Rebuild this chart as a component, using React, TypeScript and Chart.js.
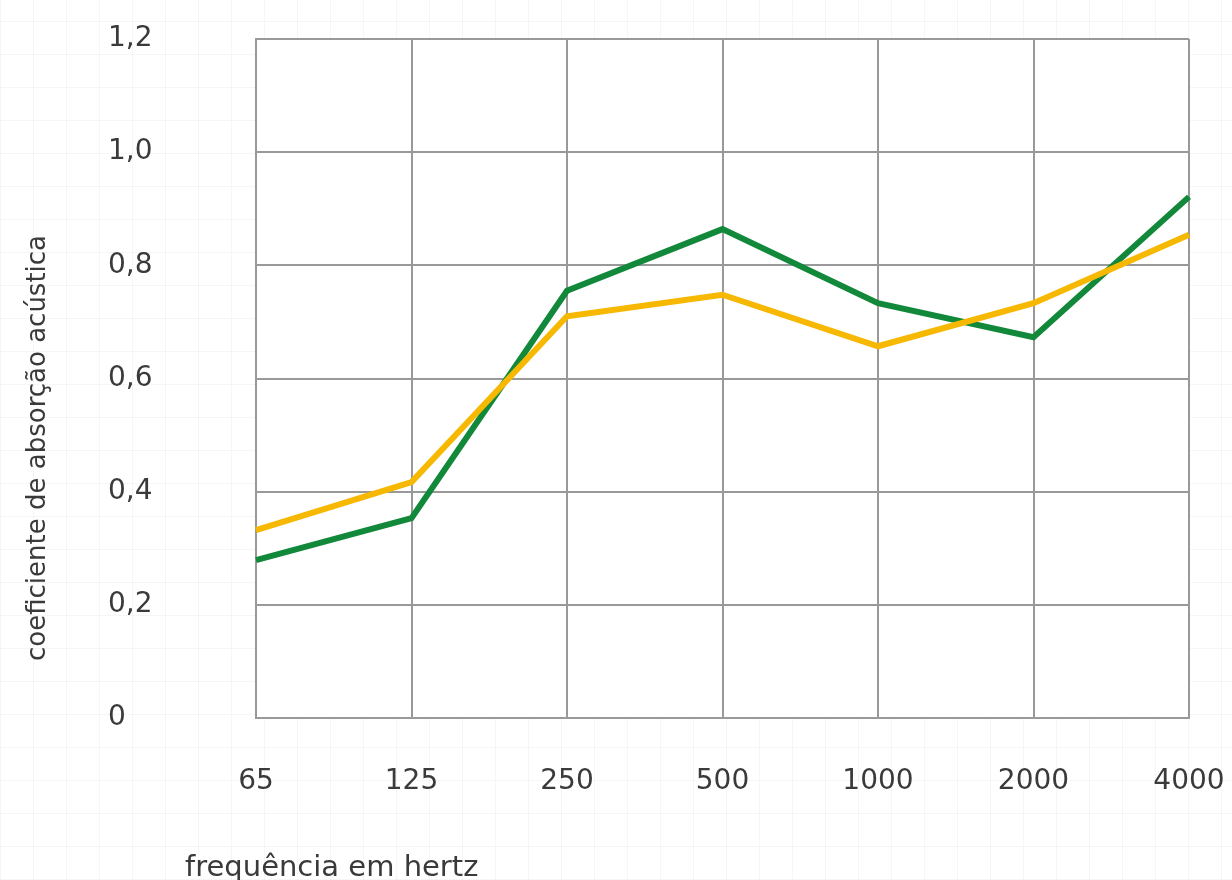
import React, { useEffect, useRef } from "react";
import { Chart, registerables } from "chart.js";

Chart.register(...registerables);

const frequencies = ["65", "125", "250", "500", "1000", "2000", "4000"];
const yellowSeries = [0.332, 0.417, 0.71, 0.748, 0.657, 0.733, 0.854];
const greenSeries = [0.279, 0.353, 0.755, 0.864, 0.733, 0.673, 0.921];
const yTickValues = [0, 0.2, 0.4, 0.6, 0.8, 1.0, 1.2];
const yTitle = "coeficiente de absorção acústica";
const xTitle = "frequência em hertz";

const FONT = "'DejaVu Sans', Verdana, sans-serif";
const TEXT = "#3a3a3a";
const GRID = "#999999";

export default function App() {
  const ref = useRef<HTMLCanvasElement | null>(null);

  useEffect(() => {
    if (!ref.current) return;
    const decor = {
      id: "decor",
      beforeDraw(chart: any) {
        const { ctx, chartArea } = chart;
        ctx.save();
        ctx.fillStyle = "#ffffff";
        ctx.fillRect(chartArea.left, chartArea.top, chartArea.right - chartArea.left, chartArea.bottom - chartArea.top);
        ctx.restore();
      },
      afterDraw(chart: any) {
        const { ctx, chartArea } = chart;
        ctx.save();
        ctx.fillStyle = TEXT;
        ctx.font = `26px ${FONT}`;
        ctx.textAlign = "center";
        ctx.textBaseline = "middle";
        ctx.translate(38, 448);
        ctx.rotate(-Math.PI / 2);
        ctx.fillText(yTitle, 0, 0);
        ctx.restore();
        ctx.save();
        ctx.fillStyle = TEXT;
        ctx.font = `29px ${FONT}`;
        ctx.textAlign = "left";
        ctx.textBaseline = "alphabetic";
        ctx.fillText(xTitle, chartArea.left - 71, 876);
        ctx.restore();
      },
    };
    const chart = new Chart(ref.current, {
      type: "line",
      data: {
        labels: frequencies,
        datasets: [
          {
            label: "amarelo",
            data: yellowSeries,
            borderColor: "#f6b800",
            borderWidth: 6,
            pointRadius: 0,
            tension: 0,
            fill: false,
          },
          {
            label: "verde",
            data: greenSeries,
            borderColor: "#12883a",
            borderWidth: 6,
            pointRadius: 0,
            tension: 0,
            fill: false,
          },
        ],
      },
      options: {
        animation: false,
        responsive: true,
        maintainAspectRatio: false,
        layout: { padding: { left: 108, right: 43, top: 39, bottom: 0 } },
        plugins: { legend: { display: false }, tooltip: { enabled: false } },
        scales: {
          x: {
            type: "category",
            offset: false,
            grid: { color: GRID, lineWidth: 2, drawTicks: false },
            border: { color: GRID, width: 2 },
            ticks: {
              color: TEXT,
              font: { family: FONT, size: 28 },
              padding: 47,
              maxRotation: 0,
              autoSkip: false,
            },
            afterFit(scale: any) {
              scale.height = 162;
              scale.paddingLeft = 0;
              scale.paddingRight = 0;
            },
          },
          y: {
            min: 0,
            max: 1.2,
            grid: { color: GRID, lineWidth: 2, drawTicks: false },
            border: { color: GRID, width: 2 },
            afterBuildTicks(scale: any) {
              scale.ticks = yTickValues.map((v) => ({ value: v }));
            },
            ticks: {
              color: TEXT,
              font: { family: FONT, size: 28 },
              crossAlign: "far",
              callback: (v: any) => (Number(v) === 0 ? "0" : Number(v).toFixed(1).replace(".", ",")),
            },
            afterFit(scale: any) {
              scale.width = 148;
              scale.paddingTop = 0;
              scale.paddingBottom = 0;
            },
          },
        },
      },
      plugins: [decor],
    });
    return () => chart.destroy();
  }, []);

  const bg =
    "repeating-linear-gradient(0deg, rgba(0,0,0,0.035) 0px, rgba(0,0,0,0.035) 1px, transparent 1px, transparent 33px)," +
    "repeating-linear-gradient(90deg, rgba(0,0,0,0.035) 0px, rgba(0,0,0,0.035) 1px, transparent 1px, transparent 33px), #ffffff";

  return (
    <div style={{ position: "absolute", left: 0, top: 0, width: 1232, height: 880, background: bg }}>
      <canvas ref={ref} />
    </div>
  );
}
